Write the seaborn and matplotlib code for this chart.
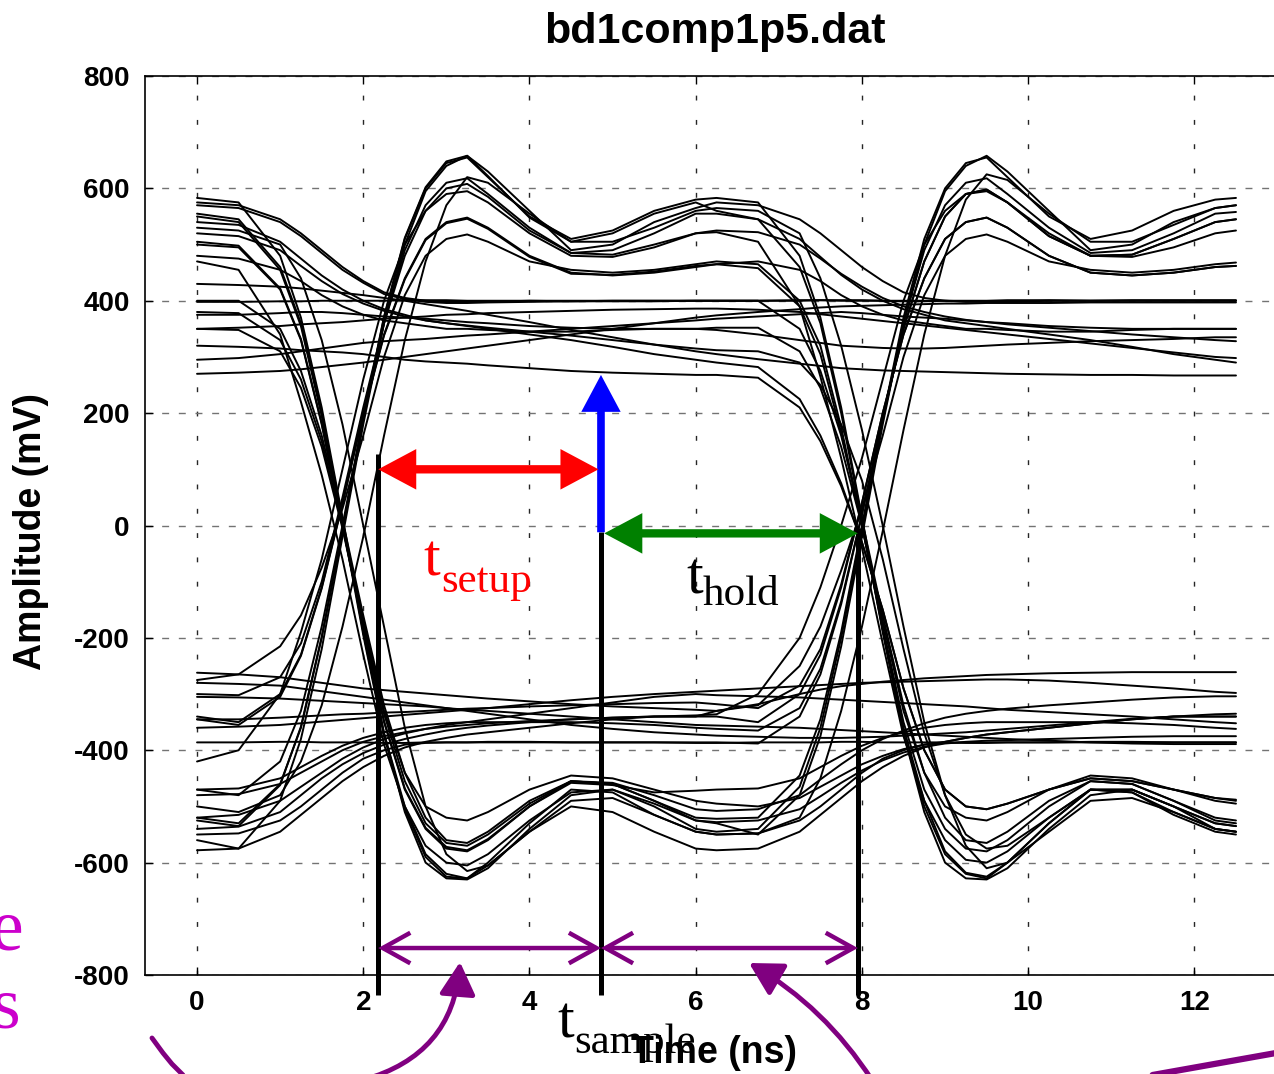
import matplotlib
matplotlib.use("Agg")
import matplotlib.pyplot as plt
import seaborn as sns
import pandas as pd
from matplotlib.patches import FancyArrowPatch
from matplotlib.lines import Line2D

# ---------------- data ----------------
time_ns = [0.0, 0.5, 1.0, 1.25, 1.5, 1.75, 2.0, 2.25, 2.5, 2.75, 3.0, 3.25, 3.5, 4.0, 4.5, 5.0, 5.5, 6.0,
           6.25, 6.75, 7.25, 7.5, 7.75, 8.0, 8.25, 8.5, 8.75, 9.0, 9.25, 9.5, 9.75, 10.25, 10.75, 11.25, 11.75, 12.25, 12.5]

trace_01 = [-386, -386, -385, -385, -386, -386, -386, -387, -387, -386, -386, -386, -385, -385, -386, -386, -386, -387,
            -387, -386, -386, -386, -385, -385, -386, -386, -386, -386, -387, -387, -386, -386, -385, -385, -386, -386, -386]
trace_02 = [-345, -345, -342, -340, -338, -336, -335, -333, -332, -330, -328, -326, -325, -322, -320, -318, -316, -315,
            -318, -325, -285, -220, -105, 40, 200, 340, 440, 510, 540, 548, 530, 480, 450, 445, 450, 460, 462]
trace_03 = [-275, -265, -215, -160, -75, 30, 160, 300, 410, 480, 510, 518, 505, 470, 455, 450, 455, 465,
            470, 465, 400, 320, 175, 0, -180, -350, -470, -540, -575, -580, -560, -500, -455, -460, -490, -525, -530]
trace_04 = [-340, -350, -300, -230, -110, 40, 200, 340, 440, 510, 540, 548, 530, 480, 450, 445, 450, 460,
            465, 470, 455, 435, 410, 390, 375, 365, 360, 355, 350, 350, 348, 345, 345, 348, 350, 350, 350]
trace_05 = [555, 545, 460, 360, 200, 10, -190, -370, -500, -585, -620, -628, -600, -530, -470, -475, -515, -545,
            -550, -548, -525, -500, -470, -440, -415, -400, -390, -387, -386, -386, -386, -386, -386, -386, -386, -386, -386]
trace_06 = [583, 575, 480, 370, 210, 15, -185, -370, -510, -600, -628, -630, -610, -540, -480, -470, -500, -540,
            -545, -540, -465, -360, -200, -10, 190, 370, 510, 600, 645, 655, 620, 550, 510, 525, 560, 580, 583]
trace_07 = [540, 535, 505, 475, 445, 420, 400, 385, 375, 365, 360, 355, 350, 340, 330, 318, 305, 295,
            290, 282, 225, 160, 75, -30, -150, -290, -400, -470, -500, -505, -495, -470, -450, -455, -470, -485, -490]
trace_08 = [575, 570, 545, 520, 490, 460, 435, 415, 405, 400, 398, 398, 398, 400, 400, 400, 400, 400,
            400, 400, 401, 401, 400, 400, 400, 399, 399, 400, 400, 400, 401, 401, 400, 400, 400, 400, 400]
trace_09 = [-520, -515, -490, -465, -440, -415, -395, -380, -370, -362, -355, -350, -345, -335, -325, -315, -305, -300,
            -302, -304, -306, -308, -310, -312, -314, -316, -318, -320, -322, -325, -328, -332, -336, -340, -345, -350, -352]
trace_10 = [-470, -468, -450, -430, -410, -392, -378, -368, -360, -355, -352, -350, -350, -350, -350, -352, -355, -360,
            -362, -365, -325, -255, -135, 20, 190, 350, 470, 550, 590, 598, 575, 515, 480, 482, 510, 540, 545]
trace_11 = [-470, -480, -420, -330, -180, 0, 190, 360, 490, 570, 610, 618, 590, 530, 485, 490, 520, 555,
            555, 545, 460, 360, 200, 10, -190, -370, -500, -585, -620, -628, -600, -530, -470, -475, -515, -545, -550]
trace_12 = [-560, -575, -490, -380, -220, -20, 180, 360, 500, 595, 640, 658, 630, 560, 490, 500, 540, 565,
            575, 570, 545, 520, 490, 460, 435, 415, 405, 400, 398, 398, 398, 400, 400, 400, 400, 400, 400]
trace_13 = [380, 378, 330, 260, 150, 0, -170, -330, -440, -500, -520, -525, -510, -470, -445, -450, -470, -490,
            -495, -500, -485, -465, -445, -425, -410, -398, -390, -385, -378, -372, -368, -360, -352, -345, -340, -340, -340]
trace_14 = [400, 400, 350, 275, 160, 10, -160, -320, -440, -520, -560, -565, -545, -490, -455, -460, -490, -520,
            -522, -520, -445, -345, -190, 0, 190, 360, 490, 570, 610, 618, 590, 530, 485, 490, 520, 555, 558]
trace_15 = [375, 375, 378, 380, 380, 378, 375, 372, 370, 368, 365, 362, 360, 355, 352, 350, 350, 350,
            352, 352, 310, 245, 140, 0, -170, -330, -440, -500, -520, -525, -510, -470, -445, -450, -470, -490, -495]
trace_16 = [295, 298, 305, 310, 315, 320, 325, 328, 330, 332, 335, 338, 340, 345, 350, 355, 360, 365,
            368, 372, 376, 378, 380, 378, 375, 372, 370, 368, 365, 362, 360, 355, 352, 350, 350, 350, 350]
trace_17 = [500, 495, 420, 330, 180, 0, -180, -350, -470, -540, -575, -580, -560, -500, -455, -460, -490, -525,
            -530, -550, -480, -375, -215, -20, 180, 360, 500, 595, 640, 658, 630, 560, 490, 500, 540, 565, 570]
trace_18 = [-520, -530, -460, -360, -200, -10, 190, 370, 510, 600, 645, 655, 620, 550, 510, 525, 560, 580,
            583, 575, 480, 370, 210, 15, -185, -370, -510, -600, -628, -630, -610, -540, -480, -470, -500, -540, -545]
trace_19 = [-525, -535, -462, -358, -198, -8, 192, 372, 512, 602, 648, 658, 622, 548, 505, 520, 555, 575,
            560, 545, 510, 478, 446, 420, 400, 385, 375, 365, 360, 355, 350, 340, 330, 318, 305, 295, 290]
trace_20 = [550, 540, 455, 355, 195, 5, -195, -375, -505, -590, -625, -628, -605, -545, -500, -510, -545, -575,
            -578, -575, -545, -515, -485, -455, -430, -410, -395, -385, -378, -372, -368, -360, -352, -345, -340, -340, -340]
trace_21 = [-345, -355, -305, -232, -112, 38, 198, 338, 438, 508, 538, 546, 528, 478, 448, 446, 452, 462,
            465, 458, 390, 305, 165, 0, -185, -360, -490, -580, -618, -625, -600, -530, -470, -475, -510, -540, -545]
trace_22 = [-550, -548, -525, -500, -470, -440, -415, -400, -390, -387, -386, -386, -386, -386, -386, -386, -386, -386,
            -386, -388, -340, -265, -140, 20, 190, 350, 470, 550, 590, 598, 575, 515, 480, 482, 510, 540, 545]
trace_23 = [-262, -265, -270, -275, -280, -285, -290, -293, -296, -299, -302, -305, -308, -313, -318, -322, -325, -328,
            -330, -320, -250, -180, -80, 30, 160, 300, 410, 480, 510, 518, 505, 470, 455, 450, 455, 465, 468]
trace_24 = [320, 318, 315, 312, 310, 308, 305, 300, 295, 292, 290, 288, 285, 280, 275, 272, 270, 268,
            268, 263, 210, 150, 70, -30, -150, -290, -400, -470, -500, -505, -495, -470, -450, -455, -470, -485, -488]
trace_25 = [-578, -575, -545, -515, -485, -455, -430, -410, -395, -385, -378, -372, -368, -360, -352, -345, -340, -340,
            -330, -318, -300, -292, -286, -282, -278, -275, -272, -270, -268, -266, -265, -263, -262, -261, -261, -261, -261]
trace_26 = [480, 475, 455, 435, 410, 390, 375, 365, 360, 355, 350, 350, 348, 345, 345, 348, 350, 350,
            348, 340, 330, 325, 320, 318, 316, 315, 315, 316, 318, 320, 322, 325, 328, 330, 332, 335, 335]
trace_27 = [350, 352, 355, 358, 360, 362, 365, 368, 370, 372, 375, 376, 378, 380, 382, 384, 385, 386,
            386, 384, 380, 376, 372, 368, 364, 360, 356, 352, 348, 344, 340, 332, 324, 316, 308, 300, 298]
trace_28 = [-305, -306, -308, -310, -312, -314, -316, -318, -320, -322, -325, -328, -330, -335, -340, -345, -350, -355,
            -356, -358, -360, -362, -364, -366, -368, -370, -372, -374, -376, -378, -380, -383, -386, -388, -389, -389, -389]
trace_29 = [398, 398, 399, 399, 400, 400, 400, 400, 401, 401, 401, 400, 400, 400, 399, 399, 399, 400,
            400, 400, 400, 401, 401, 401, 400, 400, 400, 400, 399, 399, 399, 400, 400, 401, 401, 401, 401]
trace_30 = [570, 565, 540, 515, 485, 455, 432, 412, 403, 398, 396, 396, 397, 398, 399, 400, 400, 400,
            400, 400, 350, 275, 160, 10, -160, -320, -440, -520, -560, -565, -545, -490, -455, -460, -490, -520, -525]
trace_31 = [-540, -536, -510, -480, -450, -425, -405, -390, -380, -372, -365, -360, -356, -350, -345, -342, -340, -340,
            -340, -350, -300, -230, -110, 40, 200, 340, 440, 510, 540, 548, 530, 480, 450, 445, 450, 460, 462]
trace_32 = [505, 498, 422, 332, 182, 2, -178, -348, -468, -538, -572, -578, -558, -500, -458, -462, -475, -472,
            -470, -468, -450, -430, -410, -392, -378, -368, -360, -355, -352, -350, -350, -350, -350, -352, -355, -360, -362]
trace_33 = [-500, -510, -480, -420, -320, -180, -20, 160, 330, 470, 570, 620, 610, 555, 505, 505, 530, 560,
            565, 560, 520, 440, 320, 170, 0, -180, -350, -480, -570, -610, -600, -545, -490, -485, -510, -540, -545]
trace_34 = [520, 515, 490, 462, 435, 412, 395, 382, 372, 365, 360, 356, 352, 345, 338, 330, 322, 315,
            312, 310, 290, 250, 180, 80, -60, -220, -370, -480, -550, -575, -570, -520, -470, -470, -500, -530, -535]
trace_35 = [-480, -478, -460, -440, -420, -400, -385, -375, -368, -362, -358, -355, -352, -348, -345, -342, -340, -338,
            -336, -300, -200, -110, 0, 120, 260, 400, 500, 560, 590, 595, 575, 520, 480, 478, 495, 520, 525]
trace_36 = [470, 455, 340, 220, 90, -60, -230, -390, -500, -570, -600, -605, -585, -525, -475, -470, -495, -525,
            -528, -525, -505, -482, -458, -436, -418, -404, -394, -388, -385, -383, -382, -380, -378, -376, -375, -375, -375]
trace_37 = [270, 272, 275, 278, 282, 286, 290, 295, 300, 305, 310, 315, 320, 330, 340, 350, 360, 370,
            374, 380, 385, 388, 390, 391, 392, 393, 394, 395, 395, 396, 396, 396, 397, 397, 397, 397, 397]
trace_38 = [430, 428, 425, 422, 418, 414, 410, 405, 400, 394, 388, 382, 375, 362, 348, 335, 322, 310,
            305, 296, 288, 284, 280, 278, 276, 275, 274, 273, 272, 271, 270, 269, 268, 268, 267, 267, 267]
trace_39 = [-280, -282, -285, -290, -295, -300, -305, -310, -315, -320, -325, -330, -335, -345, -355, -362, -368, -372,
            -374, -376, -378, -378, -378, -377, -376, -374, -372, -370, -368, -365, -362, -356, -350, -344, -340, -336, -335]
trace_40 = [-360, -358, -355, -352, -349, -346, -343, -340, -337, -334, -331, -328, -325, -318, -311, -305, -300, -296,
            -294, -290, -286, -284, -282, -280, -279, -278, -277, -276, -275, -274, -274, -276, -280, -285, -290, -296, -298]
trace_41 = [530, 525, 500, 440, 330, 180, 0, -180, -360, -500, -585, -615, -605, -545, -490, -485, -515, -545,
            -550, -548, -520, -450, -330, -180, -10, 170, 340, 480, 580, 625, 615, 555, 505, 505, 535, 565, 570]
trace_42 = [-420, -400, -300, -190, -60, 100, 260, 400, 500, 560, 590, 595, 575, 520, 480, 478, 495, 520,
            522, 505, 390, 265, 120, -40, -210, -375, -490, -560, -595, -600, -580, -520, -470, -470, -500, -530, -535]
trace_43 = [-300, -302, -270, -210, -100, 50, 210, 360, 480, 560, 600, 608, 585, 525, 485, 482, 500, 520,
            525, 522, 500, 475, 448, 425, 405, 390, 380, 372, 366, 362, 358, 352, 346, 340, 335, 330, 328]
trace_44 = [350, 348, 310, 245, 140, -5, -175, -335, -455, -530, -565, -570, -550, -495, -455, -458, -480, -505,
            -508, -505, -480, -452, -425, -400, -380, -365, -352, -342, -335, -330, -326, -320, -315, -310, -306, -304, -304]

all_traces = [trace_01, trace_02, trace_03, trace_04, trace_05, trace_06, trace_07, trace_08,
              trace_09, trace_10, trace_11, trace_12, trace_13, trace_14, trace_15, trace_16,
              trace_17, trace_18, trace_19, trace_20, trace_21, trace_22, trace_23, trace_24,
              trace_25, trace_26, trace_27, trace_28, trace_29, trace_30, trace_31, trace_32,
              trace_33, trace_34, trace_35, trace_36, trace_37, trace_38, trace_39, trace_40,
              trace_41, trace_42, trace_43, trace_44]

x_ticks = [0, 2, 4, 6, 8, 10, 12]
y_ticks = [-800, -600, -400, -200, 0, 200, 400, 600, 800]

# annotation anchors (ns / mV)
t_setup_start = 2.18
t_sample_pos = 4.86
t_hold_end = 7.95

# ---------------- figure ----------------
sns.set_theme(style="ticks", rc={"text.color": "black", "axes.labelcolor": "black",
                                 "xtick.color": "black", "ytick.color": "black",
                                 "axes.edgecolor": "black"})
plt.rcParams["font.family"] = ["Liberation Sans", "DejaVu Sans"]
plt.rcParams["font.weight"] = "bold"

W, H = 1274, 1074
fig = plt.figure(figsize=(W / 100, H / 100), dpi=100)
fig.patch.set_facecolor("white")
ax = fig.add_axes([145 / W, 99 / H, 1145 / W, 899 / H])
ax.set_facecolor("white")

frames = []
for i, tr in enumerate(all_traces):
    frames.append(pd.DataFrame({"time_ns": time_ns, "amplitude_mv": tr, "trace": i}))
df = pd.concat(frames, ignore_index=True)

sns.lineplot(data=df, x="time_ns", y="amplitude_mv", units="trace", estimator=None,
             color="black", linewidth=1.4, ax=ax, legend=False, sort=False, zorder=3)

ax.set_xlim(-0.626, 13.15)
ax.set_ylim(-800, 800)
ax.set_xticks(x_ticks)
ax.set_yticks(y_ticks)
ax.set_xticklabels([str(v) for v in x_ticks])
ax.set_yticklabels([str(v) for v in y_ticks])
ax.tick_params(direction="in", length=6, width=1, top=True, right=False,
               labelsize=20, pad=11, colors="black")
for lab in ax.get_xticklabels() + ax.get_yticklabels():
    lab.set_fontweight("bold")

ax.set_axisbelow(True)
ax.xaxis.grid(True, color="0.15", linestyle=(0, (3.5, 14)), linewidth=1.0)
ax.yaxis.grid(True, color="0.45", linestyle=(0, (5, 7)), linewidth=1.0)
for side in ["top", "bottom", "left", "right"]:
    ax.spines[side].set_color("black")
    ax.spines[side].set_linewidth(1.2)

ax.set_title("bd1comp1p5.dat", fontsize=31, fontweight="bold", color="black", x=0.498, y=1.0367, pad=0)
ax.set_xlabel("Time (ns)", fontsize=27, fontweight="bold", color="black")
ax.set_ylabel("Amplitude (mV)", fontsize=27, fontweight="bold", color="black")
ax.xaxis.label.set_va("center")
ax.xaxis.set_label_coords((714 - 145) / 1145, (H - 1053 - 99) / 899)
ax.yaxis.label.set_va("center")
ax.yaxis.set_label_coords((31 - 145) / 1145, (H - 531 - 99) / 899)

# ---------------- annotations ----------------
kw_line = dict(color="black", linewidth=3.6, solid_capstyle="butt", clip_on=False, zorder=6)
ax.plot([t_setup_start, t_setup_start], [128, -836], **kw_line)
ax.plot([t_sample_pos, t_sample_pos], [-12, -836], **kw_line)
ax.plot([t_hold_end, t_hold_end], [-4, -836], **kw_line)

def arrow(p1, p2, style, color, lw, ms):
    ax.annotate("", xy=p2, xytext=p1, annotation_clip=False,
                arrowprops=dict(arrowstyle=style, color=color, lw=lw, shrinkA=0, shrinkB=0,
                                mutation_scale=ms, joinstyle="miter", capstyle="butt"), zorder=7)

# blue sampling arrow
arrow((t_sample_pos, -12), (t_sample_pos, 268), "-|>,head_length=0.75,head_width=0.4", "#0000ff", 5.5, 24)
# red setup arrow
arrow((t_setup_start, 100), (t_sample_pos - 0.03, 100), "<|-|>,head_length=0.75,head_width=0.4", "#ff0000", 6, 24)
# green hold arrow
arrow((t_sample_pos + 0.04, -14), (t_hold_end, -14), "<|-|>,head_length=0.75,head_width=0.4", "#008000", 6, 24)
# purple arrows
arrow((t_setup_start, -752), (t_sample_pos, -752), "<->,head_length=0.9,head_width=0.5", "#800080", 3.2, 22)
arrow((t_sample_pos, -752), (t_hold_end, -752), "<->,head_length=0.9,head_width=0.5", "#800080", 3.2, 22)

def fx(x):
    return x / W

def fy(y):
    return 1 - y / H

serif = ["Liberation Serif", "DejaVu Serif"]
fig.text(fx(423), fy(575), "t", fontsize=43, color="#ff0000", family=serif, fontweight="normal", va="baseline", ha="left")
fig.text(fx(441), fy(592), "setup", fontsize=31, color="#ff0000", family=serif, fontweight="normal", va="baseline", ha="left")
fig.text(fx(686), fy(593), "t", fontsize=43, color="black", family=serif, fontweight="normal", va="baseline", ha="left")
fig.text(fx(703), fy(605), "hold", fontsize=31, color="black", family=serif, fontweight="normal", va="baseline", ha="left")
fig.text(fx(557), fy(1038), "t", fontsize=43, color="black", family=serif, fontweight="normal", va="baseline", ha="left")
fig.text(fx(574), fy(1053), "sample", fontsize=31, color="black", family=serif, fontweight="normal", va="baseline", ha="left")
fig.text(fx(23), fy(950), "e", fontsize=53, color="#cc00cc", family=serif, fontweight="normal", va="baseline", ha="right")
fig.text(fx(21), fy(1027), "s", fontsize=53, color="#cc00cc", family=serif, fontweight="normal", va="baseline", ha="right")

# purple curved pointers below the axes
purple = "#800080"
p1 = FancyArrowPatch((fx(363), fy(1080)), (fx(460), fy(962)), transform=fig.transFigure,
                     connectionstyle="arc3,rad=0.35", arrowstyle="-|>,head_length=0.9,head_width=0.5",
                     mutation_scale=22, color=purple, lw=3.5, shrinkA=0, shrinkB=0)
fig.add_artist(p1)
p2 = FancyArrowPatch((fx(872), fy(1080)), (fx(749), fy(963)), transform=fig.transFigure,
                     connectionstyle="arc3,rad=0.12", arrowstyle="-|>,head_length=0.9,head_width=0.5",
                     mutation_scale=22, color=purple, lw=3.5, shrinkA=0, shrinkB=0)
fig.add_artist(p2)
fig.add_artist(Line2D([fx(152), fx(163), fx(172), fx(184)], [fy(1038), fy(1053), fy(1064), fy(1076)],
                      transform=fig.transFigure, color=purple, lw=3.5))
fig.add_artist(Line2D([fx(1147), fx(1276)], [fy(1076), fy(1053)],
                      transform=fig.transFigure, color=purple, lw=4.5))

fig.savefig("out.png", dpi=100, facecolor="white")
